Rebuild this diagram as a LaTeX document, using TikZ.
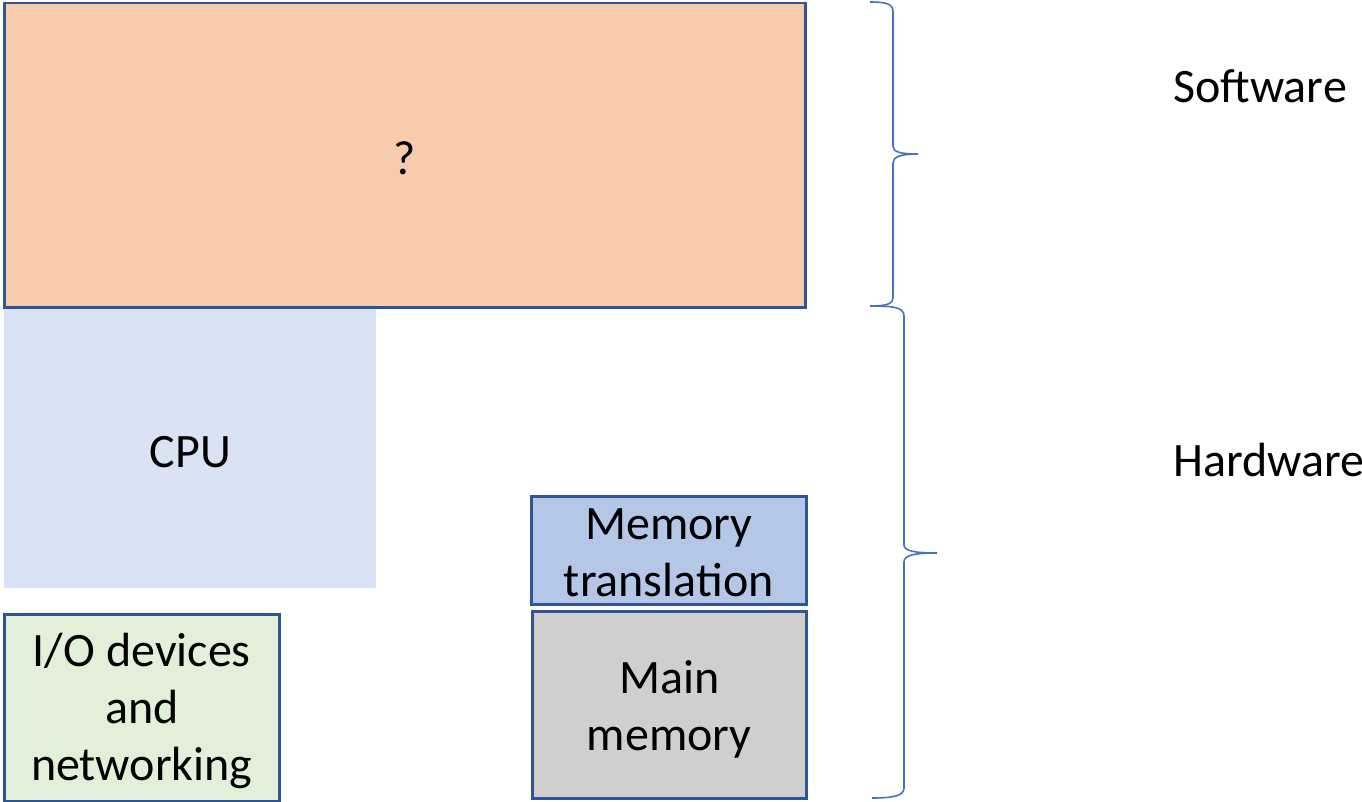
\documentclass[tikz,border=0pt]{standalone}
\usepackage{fontspec}
\setmainfont{Carlito}
\definecolor{edge}{HTML}{2F5597}
\definecolor{bracecol}{HTML}{4472C4}
\definecolor{swfill}{HTML}{F8CBAD}
\definecolor{cpufill}{HTML}{DAE3F3}
\definecolor{iofill}{HTML}{E2F0D9}
\definecolor{mtfill}{HTML}{B4C7E7}
\definecolor{mmfill}{HTML}{D0CECE}
\tikzset{
  blk/.style={anchor=north west, inner sep=0pt, align=center,
    font=\fontsize{48}{57}\selectfont, text=black},
  framed/.style={blk, draw=edge, line width=2.5pt},
  lbl/.style={blk, anchor=center, yshift=-3pt},
  bracepath/.style={draw=bracecol, line width=1.6pt},
  sidelabel/.style={anchor=west, inner sep=0pt, font=\fontsize{48}{57}\selectfont}
}
\begin{document}
\begin{tikzpicture}[x=1pt,y=-1pt]
\useasboundingbox (0,0) rectangle (1362,802);
% software layer
\node[framed, fill=swfill, minimum width=801pt, minimum height=304pt] (sw) at (3,2) {};
\node[lbl] (q) at (sw.center) {?};
% hardware blocks
\node[blk, fill=cpufill, minimum width=372pt, minimum height=279pt] (cpu) at (4,309) {};
\node[lbl] (cpulbl) at (cpu.center) {CPU};
\node[framed, fill=iofill, minimum width=275pt, minimum height=187pt] (io) at (3,613) {};
\node[lbl] (iolbl) at (io.center) {I/O devices\\and\\networking};
\node[framed, fill=mtfill, minimum width=275pt, minimum height=108pt] (mt) at (530,495) {};
\node[lbl] (mtlbl) at (mt.center) {Memory\\translation};
\node[framed, fill=mmfill, minimum width=274pt, minimum height=187pt] (mm) at (531,610) {};
\node[lbl, yshift=-2pt] (mmlbl) at (mm.center) {Main\\memory};
% braces
\draw[bracepath] (870,2) .. controls (887,2) and (893,4) .. (893,12) -- (893,146)
  .. controls (893,152) and (900,154) .. (918,154)
  .. controls (900,154) and (893,157) .. (893,163) -- (893,297)
  .. controls (893,304) and (887,306) .. (870,306);
\draw[bracepath] (870,306) .. controls (893,306) and (904,307) .. (904,316) -- (904,545)
  .. controls (904,551) and (915,553) .. (937,553)
  .. controls (915,553) and (904,555) .. (904,562) -- (904,788)
  .. controls (904,796) and (893,798) .. (872,798);
% layer labels
\node[sidelabel] (swlbl) at (1173,86) {Software};
\node[sidelabel] (hwlbl) at (1173,460) {Hardware};
\end{tikzpicture}
\end{document}
